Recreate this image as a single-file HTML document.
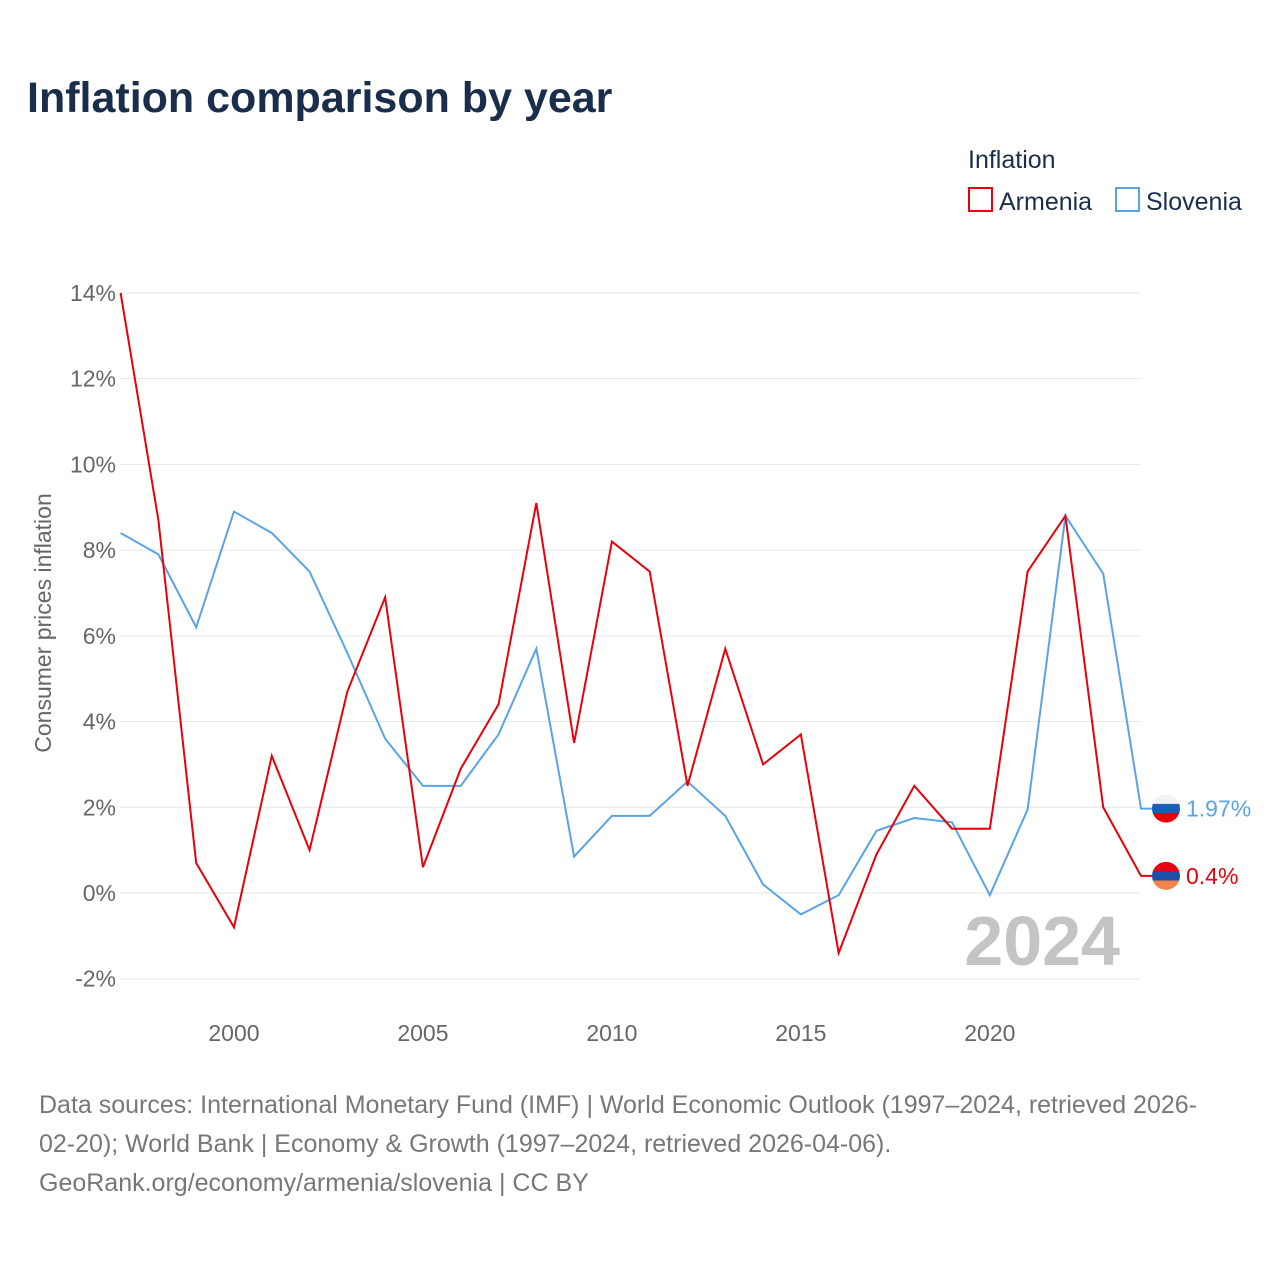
<!DOCTYPE html>
<html><head><meta charset="utf-8"><style>
body{margin:0;background:#fff;font-family:"Liberation Sans",sans-serif;}
#wrap{position:relative;width:1280px;height:1280px;overflow:hidden;}
</style></head><body>
<div id="wrap">
<svg id="chart" width="1280" height="1280" font-family="Liberation Sans, sans-serif">
<text x="27" y="112" font-size="43" font-weight="bold" fill="#1a2e4c">Inflation comparison by year</text>
<text x="968" y="168" font-size="25" fill="#1a2e4c">Inflation</text>
<g><rect x="969" y="188" width="23" height="23" fill="none" stroke="#e8000b" stroke-width="2"/><text x="999" y="210" font-size="25" fill="#1a2e4c">Armenia</text></g>
<g><rect x="1116" y="188" width="23" height="23" fill="none" stroke="#5ba3e8" stroke-width="2"/><text x="1146" y="210" font-size="25" fill="#1a2e4c">Slovenia</text></g>
<text transform="translate(51,623) rotate(-90)" text-anchor="middle" font-size="23" fill="#666">Consumer prices inflation</text>
<g id="grid"></g><g id="yticks"></g><g id="xticks"></g><g id="lines"></g>
<text x="1120" y="965" text-anchor="end" font-size="70" font-weight="bold" fill="#c4c4c4">2024</text>
<g id="ends"></g>
<text font-size="25" fill="#777"><tspan x="39" y="1113">Data sources: International Monetary Fund (IMF) | World Economic Outlook (1997–2024, retrieved 2026-</tspan><tspan x="39" y="1152">02-20); World Bank | Economy &amp; Growth (1997–2024, retrieved 2026-04-06).</tspan><tspan x="39" y="1191">GeoRank.org/economy/armenia/slovenia | CC BY</tspan></text>
</svg></div>
<script>
const years=[1997,1998,1999,2000,2001,2002,2003,2004,2005,2006,2007,2008,2009,2010,2011,2012,2013,2014,2015,2016,2017,2018,2019,2020,2021,2022,2023,2024];
const armenia=[14.0,8.7,0.7,-0.8,3.2,1.0,4.7,6.9,0.6,2.9,4.4,9.1,3.5,8.2,7.5,2.5,5.7,3.0,3.7,-1.4,0.9,2.5,1.5,1.5,7.5,8.8,2.0,0.4];
const slovenia=[8.4,7.9,6.2,8.9,8.4,7.5,5.6,3.6,2.5,2.5,3.7,5.7,0.85,1.8,1.8,2.6,1.8,0.2,-0.5,-0.05,1.45,1.75,1.65,-0.05,1.95,8.8,7.45,1.97];
const yTicks=[-2,0,2,4,6,8,10,12,14];
const xTicks=[2000,2005,2010,2015,2020];
const NS="http://www.w3.org/2000/svg";
const X=v=>120.6+(v-1997)*(1141-120.6)/27;
const Y=v=>893-v*42.86;
function mk(t,a,p){const e=document.createElementNS(NS,t);for(const k in a)e.setAttribute(k,a[k]);p.appendChild(e);return e;}
const grid=document.getElementById('grid'),yt=document.getElementById('yticks'),xt=document.getElementById('xticks'),lines=document.getElementById('lines'),ends=document.getElementById('ends');
yTicks.forEach(v=>{
 const l=mk('line',{x1:120,x2:1141,y1:Y(v),y2:Y(v),stroke:'#e6e6e6','stroke-width':1},grid);
 
 
 const t=mk('text',{x:116,y:Y(v)+8,'text-anchor':'end','font-size':23,fill:'#666'},yt);
 t.textContent=v+'%';
 
 
});
xTicks.forEach(v=>{
 const t=mk('text',{x:X(v),y:1041,'text-anchor':'middle','font-size':23,fill:'#666'},xt);
 t.textContent=v;
 
 
});
function series(vals,col,name){
 const pts=vals.map((v,i)=>X(years[i])+','+Y(v));
 const last=vals[vals.length-1];
 pts.push((X(2024)+25)+','+Y(last));
 const p=mk('polyline',{points:pts.join(' '),fill:'none',stroke:col,'stroke-width':2},lines);
 
 
}
series(slovenia,'#5ba3e8','slovenia');
series(armenia,'#e8000b','armenia');
function flag(v,cols,name,col,label){
 const cx=1166,cy=Y(v),r=14;
 const g=mk('g',{},ends);
 
 
 const id='clip'+name;
 const cp=mk('clipPath',{id:id},g);mk('circle',{cx:cx,cy:cy,r:r},cp);
 cols.forEach((c,i)=>mk('rect',{x:cx-r,y:cy-r+i*2*r/3,width:2*r,height:2*r/3+0.5,fill:c,'clip-path':'url(#'+id+')'},g));
 const t=mk('text',{x:1186,y:cy+8,'font-size':23,fill:col},ends);
 t.textContent=label;
 
 
}
flag(slovenia[slovenia.length-1],['#f2f2f2','#1c5fb5','#e8000b'],'slovenia','#5ba3e8',slovenia[slovenia.length-1]+'%');
flag(armenia[armenia.length-1],['#e8000b','#1c4fa8','#f2844a'],'armenia','#e8000b',armenia[armenia.length-1]+'%');
</script>
</body></html>
